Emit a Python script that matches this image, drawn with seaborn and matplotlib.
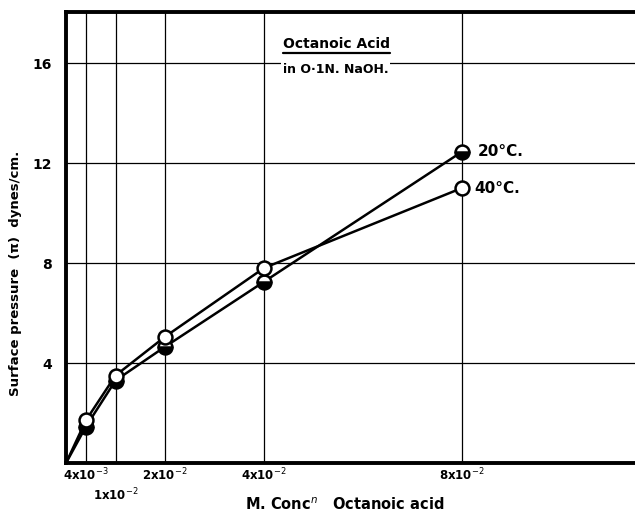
import pandas as pd
import matplotlib
matplotlib.use("Agg")
import matplotlib.pyplot as plt
import seaborn as sns

# Octanoic acid in 0.1N NaOH - surface pressure vs concentration
conc = [0.004, 0.01, 0.02, 0.04, 0.08]
pi_20 = [1.45, 3.3, 4.65, 7.25, 12.45]
pi_40 = [1.7, 3.5, 5.05, 7.8, 11.0]

x_ticks = [0.004, 0.01, 0.02, 0.04, 0.08]
x_ticklabels = ["4x10$^{-3}$", "1x10$^{-2}$", "2x10$^{-2}$", "4x10$^{-2}$", "8x10$^{-2}$"]
y_ticks = [4, 8, 12, 16]

# lines start from the origin
df = pd.concat([
    pd.DataFrame({"conc": [0] + conc, "pi": [0] + pi_20, "temp": "20°C."}),
    pd.DataFrame({"conc": [0] + conc, "pi": [0] + pi_40, "temp": "40°C."}),
])

sns.set_style("white", {"text.color": "black", "axes.labelcolor": "black",
                        "xtick.color": "black", "ytick.color": "black"})
plt.rcParams["font.family"] = ["DejaVu Sans"]

fig = plt.figure(figsize=(6.35, 5.15), dpi=100)
ax = fig.add_axes([0.104, 0.101, 0.896, 0.876])

sns.lineplot(data=df, x="conc", y="pi", hue="temp", palette=["black", "black"],
             linewidth=1.8, legend=False, ax=ax, zorder=3)

ax.plot(conc, pi_20, linestyle="none", marker="o", markersize=10, fillstyle="bottom",
        markerfacecolor="black", markerfacecoloralt="white", markeredgecolor="black",
        markeredgewidth=1.8, zorder=4)
ax.plot(conc, pi_40, linestyle="none", marker="o", markersize=10, markerfacecolor="white",
        markeredgecolor="black", markeredgewidth=1.8, zorder=4)

ax.set_xlim(0, 0.115)
ax.set_ylim(0, 18.05)
ax.set_xticks(x_ticks)
ax.set_xticklabels(x_ticklabels, fontsize=8.5, fontweight="bold")
ax.set_yticks(y_ticks)
ax.set_yticklabels([str(v) for v in y_ticks], fontsize=10, fontweight="bold")
ax.tick_params(axis="x", length=0, pad=3)
ax.tick_params(axis="y", length=7, width=1, direction="out", pad=3)
# second row for the 1x10^-2 label
ax.xaxis.get_major_ticks()[1].set_pad(17)

ax.grid(True, color="black", linewidth=0.9)
ax.set_axisbelow(True)
for side in ["left", "bottom", "top"]:
    ax.spines[side].set_linewidth(2.8)
    ax.spines[side].set_color("black")
ax.spines["right"].set_visible(False)

ax.set_xlabel("M. Conc$^{n}$   Octanoic acid", fontsize=10.5, fontweight="bold")
ax.xaxis.set_label_coords(0.49, -0.073)
ax.set_ylabel("Surface pressure  (π)  dynes/cm.", fontsize=9.5, fontweight="bold")
ax.yaxis.set_label_coords(-0.077, 0.42)

ax.text(conc[-1] + 0.0032, pi_20[-1], "20°C.", fontsize=11, fontweight="bold", va="center")
ax.text(conc[-1] + 0.0026, pi_40[-1], "40°C.", fontsize=11, fontweight="bold", va="center")

title = ax.text(0.0438, 16.75, "Octanoic Acid", fontsize=10, fontweight="bold", va="center",
                bbox=dict(facecolor="white", edgecolor="none", pad=1))
ax.text(0.0438, 15.75, "in O·1N. NaOH.", fontsize=9, fontweight="bold", va="center",
        bbox=dict(facecolor="white", edgecolor="none", pad=1))

# underline the title
fig.canvas.draw()
bb = title.get_window_extent().transformed(ax.transData.inverted())
ax.plot([bb.x0, bb.x1], [bb.y0 - 0.08, bb.y0 - 0.08], color="black", linewidth=1.6, zorder=5)

fig.savefig("out.png", dpi=100)
